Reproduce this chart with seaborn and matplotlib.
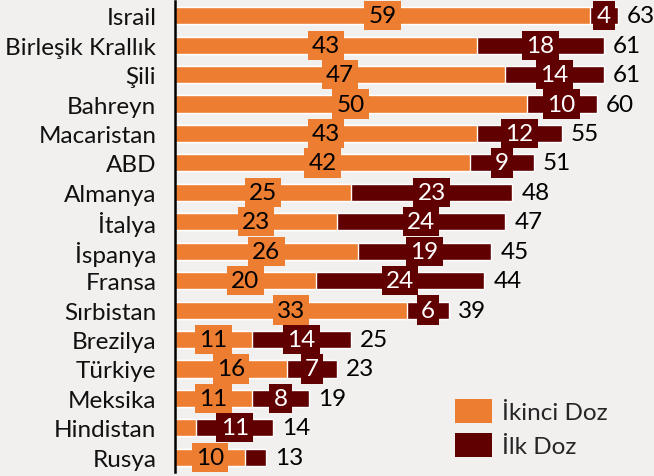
import matplotlib
matplotlib.use("Agg")
import matplotlib.pyplot as plt
import seaborn as sns
import pandas as pd
from matplotlib.patches import Patch

countries = ["Israil", "Birleşik Krallık", "Şili", "Bahreyn", "Macaristan", "ABD",
             "Almanya", "İtalya", "İspanya", "Fransa", "Sırbistan", "Brezilya",
             "Türkiye", "Meksika", "Hindistan", "Rusya"]
second_dose = [59, 43, 47, 50, 43, 42, 25, 23, 26, 20, 33, 11, 16, 11, 3, 10]
first_dose = [4, 18, 14, 10, 12, 9, 23, 24, 19, 24, 6, 14, 7, 8, 11, 3]
totals = [a + b for a, b in zip(second_dose, first_dose)]
legend_labels = ["İkinci Doz", "İlk Doz"]

ORANGE = "#ED7D31"
DARK = "#600000"
BG = "#F2F0EF"
FONT = "Lato"
FS = 17.5

sns.set_theme(style="white")
plt.rcParams["font.family"] = [FONT, "DejaVu Sans"]

df = pd.DataFrame({"country": countries, "second": second_dose,
                   "first": first_dose, "total": totals})

fig = plt.figure(figsize=(6.54, 4.77), dpi=100, facecolor=BG)
ax = fig.add_axes([175 / 654, 1 - 473 / 477, 479 / 654, 471 / 477])
ax.set_facecolor(BG)

sns.barplot(data=df, y="country", x="total", color=DARK, width=0.58,
            saturation=1, ax=ax, orient="h")
sns.barplot(data=df, y="country", x="second", color=ORANGE, width=0.58,
            saturation=1, ax=ax, orient="h")

ax.set_xlim(0, 479 / 7.03)
ax.set_ylim(len(countries) - 0.5, -0.5)
ax.set_xlabel("")
ax.set_ylabel("")
ax.set_xticks([])
ax.tick_params(axis="y", length=0, pad=13.5, labelsize=FS)
for lab in ax.get_yticklabels():
    lab.set_color("#111111")
for s in ["top", "right", "bottom"]:
    ax.spines[s].set_visible(False)
ax.spines["left"].set_color("black")
ax.spines["left"].set_linewidth(1.8)

for i in range(len(countries)):
    s, f, t = second_dose[i], first_dose[i], totals[i]
    if s >= 4:
        ax.text(s / 2, i, str(s), ha="center", va="center", fontsize=FS,
                color="black",
                bbox=dict(boxstyle="square,pad=0.17", fc=ORANGE, ec="none"))
    if f >= 4:
        ax.text(s + f / 2, i, str(f), ha="center", va="center", fontsize=FS,
                color="white",
                bbox=dict(boxstyle="square,pad=0.17", fc=DARK, ec="none"))
    ax.annotate(str(t), xy=(t, i), xytext=(6.5, 0), textcoords="offset points",
                ha="left", va="center", fontsize=FS, color="black")

handles = [Patch(facecolor=ORANGE, edgecolor="none"),
           Patch(facecolor=DARK, edgecolor="none")]
fig.legend(handles, legend_labels, loc="upper left",
           bbox_to_anchor=(445 / 654, 1 - 390 / 477), frameon=False,
           fontsize=FS, handlelength=1.55, handleheight=1.15,
           handletextpad=0.4, labelspacing=0.4, borderaxespad=0)

fig.savefig("out.png", dpi=100, facecolor=BG)
